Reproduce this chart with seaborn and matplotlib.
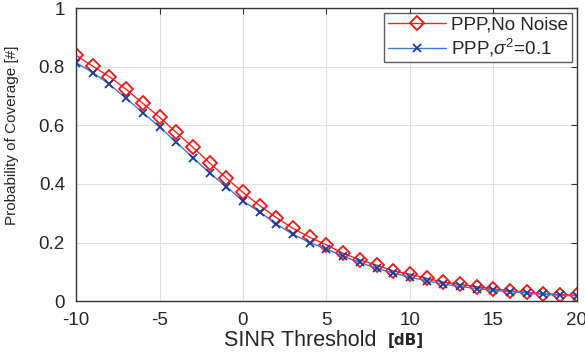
import matplotlib
matplotlib.use('Agg')
import matplotlib.pyplot as plt
import numpy as np
import pandas as pd
import seaborn as sns

# SINR threshold (dB) and coverage probabilities
sinr_db = list(range(-10, 21))
cov_no_noise = [0.839, 0.802, 0.766, 0.723, 0.675, 0.628, 0.576, 0.525, 0.472, 0.420,
                0.371, 0.326, 0.285, 0.248, 0.218, 0.192, 0.163, 0.141, 0.123, 0.103,
                0.092, 0.078, 0.065, 0.057, 0.049, 0.042, 0.035, 0.030, 0.025, 0.022, 0.020]
cov_noise = [0.814, 0.780, 0.740, 0.692, 0.643, 0.595, 0.542, 0.490, 0.437, 0.391,
             0.342, 0.304, 0.263, 0.228, 0.200, 0.178, 0.153, 0.132, 0.112, 0.096,
             0.081, 0.070, 0.058, 0.050, 0.043, 0.037, 0.032, 0.028, 0.023, 0.020, 0.018]
labels = ['PPP,No Noise', r'PPP,$\sigma^2$=0.1']
x_ticks = [-10, -5, 0, 5, 10, 15, 20]
y_ticks = [0, 0.2, 0.4, 0.6, 0.8, 1]
y_ticklabels = ['0', '0.2', '0.4', '0.6', '0.8', '1']

sns.set_style('white')
plt.rcParams['font.family'] = ['Liberation Sans', 'DejaVu Sans']
plt.rcParams['mathtext.fontset'] = 'custom'
plt.rcParams['mathtext.rm'] = 'Liberation Sans'
plt.rcParams['mathtext.it'] = 'Liberation Sans:italic'

df = pd.DataFrame({'sinr': sinr_db, 'no_noise': cov_no_noise, 'noise': cov_noise})

fig = plt.figure(figsize=(5.85, 3.53), dpi=100)
ax = fig.add_axes([0.13, 0.147, 0.856, 0.830])

sns.lineplot(data=df, x='sinr', y='no_noise', ax=ax, color='#ff2020', lw=1.0,
             marker='D', markersize=7, markerfacecolor='none', markeredgecolor='#ff1010',
             markeredgewidth=1.3, label=labels[0])
sns.lineplot(data=df, x='sinr', y='noise', ax=ax, color='#3c78d8', lw=1.0,
             marker='x', markersize=6, markeredgecolor='#1a3a9c',
             markeredgewidth=1.3, label=labels[1])

ax.set_xlim(-10, 20)
ax.set_ylim(0, 1)
ax.set_xticks(x_ticks)
ax.set_yticks(y_ticks)
ax.set_xticklabels([str(t) for t in x_ticks])
ax.set_yticklabels(y_ticklabels)
ax.grid(True, color='#e0e0e0', lw=0.8)
ax.tick_params(direction='in', top=True, right=True, labelsize=13.5, length=4, color='#333333')
ax.tick_params(axis='x', pad=8)
ax.tick_params(axis='y', pad=8)
for s in ax.spines.values():
    s.set_color('#333333')
    s.set_linewidth(1.0)

ax.set_xlabel('SINR Threshold', fontsize=15.5)
ax.xaxis.set_label_coords(0.447, -0.097)
fig.text(0.662, 0.036, '[dB]', fontsize=11, fontweight='bold', family='DejaVu Sans', va='center')
ax.set_ylabel('Probability of Coverage [#]', fontsize=11)
ax.yaxis.set_label_coords(-0.114, 0.567)

leg = ax.legend(loc='upper right', fontsize=13.5, frameon=True, fancybox=False,
                edgecolor='#333333', borderpad=0.2, handlelength=3.1, labelspacing=0.15,
                handletextpad=0.3, borderaxespad=0.25)
leg.get_frame().set_linewidth(1.0)

plt.savefig('out.png', dpi=100)
plt.close()
